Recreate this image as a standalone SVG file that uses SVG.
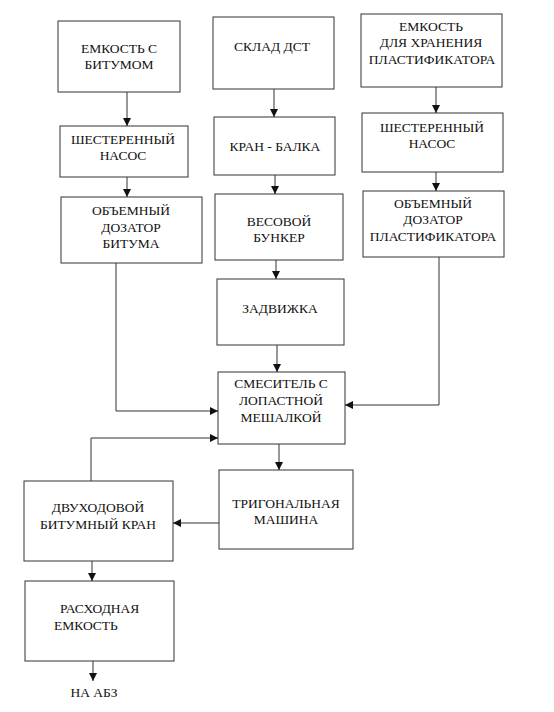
<svg xmlns="http://www.w3.org/2000/svg" width="554" height="712" viewBox="0 0 554 712">
<defs>
<marker id="ah" markerWidth="8" markerHeight="8" refX="8" refY="4" orient="auto" markerUnits="userSpaceOnUse"><path d="M0,0 L8,4 L0,8 Z" fill="#111"/></marker>
<style>
.b{fill:#fff;stroke:#333;stroke-width:1}
text{font-family:'Liberation Serif','Times New Roman','DejaVu Serif',serif;font-size:13.5px;fill:#111}
.t{text-anchor:middle}
.c{fill:none;stroke:#333;stroke-width:1;marker-end:url(#ah)}
</style>
</defs>
<rect width="554" height="712" fill="#fff"/>
<g id="n1"><rect class="b" x="58" y="21" width="122" height="71"/><text class="t" x="119" y="53">ЕМКОСТЬ С</text><text class="t" x="119" y="69">БИТУМОМ</text></g>
<g id="n2"><rect class="b" x="213" y="17" width="121" height="72"/><text class="t" x="272" y="51">СКЛАД ДСТ</text></g>
<g id="n3"><rect class="b" x="361" y="14" width="141" height="73"/><text class="t" x="431" y="31">ЕМКОСТЬ</text><text class="t" x="431" y="47">ДЛЯ ХРАНЕНИЯ</text><text class="t" x="432" y="64">ПЛАСТИФИКАТОРА</text></g>
<g id="n4"><rect class="b" x="60" y="126" width="128" height="51"/><text class="t" x="123" y="144">ШЕСТЕРЕННЫЙ</text><text class="t" x="123" y="160">НАСОС</text></g>
<g id="n5"><rect class="b" x="214" y="117" width="121" height="58"/><text class="t" x="275" y="151">КРАН - БАЛКА</text></g>
<g id="n6"><rect class="b" x="362" y="113" width="141" height="59"/><text class="t" x="432" y="132">ШЕСТЕРЕННЫЙ</text><text class="t" x="432" y="148">НАСОС</text></g>
<g id="n7"><rect class="b" x="61" y="197" width="141" height="66"/><text class="t" x="131" y="215">ОБЪЕМНЫЙ</text><text class="t" x="131" y="232">ДОЗАТОР</text><text class="t" x="131" y="248">БИТУМА</text></g>
<g id="n8"><rect class="b" x="215" y="194" width="128" height="66"/><text class="t" x="279" y="226">ВЕСОВОЙ</text><text class="t" x="279" y="242">БУНКЕР</text></g>
<g id="n9"><rect class="b" x="363" y="191" width="141" height="66"/><text class="t" x="433" y="208">ОБЪЕМНЫЙ</text><text class="t" x="433" y="224">ДОЗАТОР</text><text class="t" x="433" y="241">ПЛАСТИФИКАТОРА</text></g>
<g id="n10"><rect class="b" x="217" y="279" width="127" height="66"/><text class="t" x="280" y="313">ЗАДВИЖКА</text></g>
<g id="n11"><rect class="b" x="218" y="372" width="127" height="72"/><text class="t" x="281" y="388">СМЕСИТЕЛЬ С</text><text class="t" x="281" y="405">ЛОПАСТНОЙ</text><text class="t" x="281" y="422">МЕШАЛКОЙ</text></g>
<g id="n12"><rect class="b" x="219" y="470" width="134" height="79"/><text class="t" x="286" y="508">ТРИГОНАЛЬНАЯ</text><text class="t" x="286" y="524">МАШИНА</text></g>
<g id="n13"><rect class="b" x="24" y="481" width="149" height="80"/><text class="t" x="98" y="512">ДВУХОДОВОЙ</text><text class="t" x="98" y="529">БИТУМНЫЙ КРАН</text></g>
<g id="n14"><rect class="b" x="25" y="581" width="149" height="80"/><text x="60" y="613">РАСХОДНАЯ</text><text x="54" y="630">ЕМКОСТЬ</text></g>
<g id="n15"><text class="t" x="94" y="697">НА АБЗ</text></g>
<g id="connectors">
<path class="c" d="M127,92 V126"/>
<path class="c" d="M274,89 V117"/>
<path class="c" d="M436,87 V113"/>
<path class="c" d="M127,177 V197"/>
<path class="c" d="M275,175 V194"/>
<path class="c" d="M436,172 V191"/>
<path class="c" d="M276,260 V279"/>
<path class="c" d="M277,345 V372"/>
<path class="c" d="M116,263 V411 H218"/>
<path class="c" d="M439,257 V405 H345"/>
<path class="c" d="M279,444 V470"/>
<path class="c" d="M219,523 H173"/>
<path class="c" d="M91,481 V438 H218"/>
<path class="c" d="M92,561 V581"/>
<path class="c" d="M93,661 V681"/>
</g>
</svg>
